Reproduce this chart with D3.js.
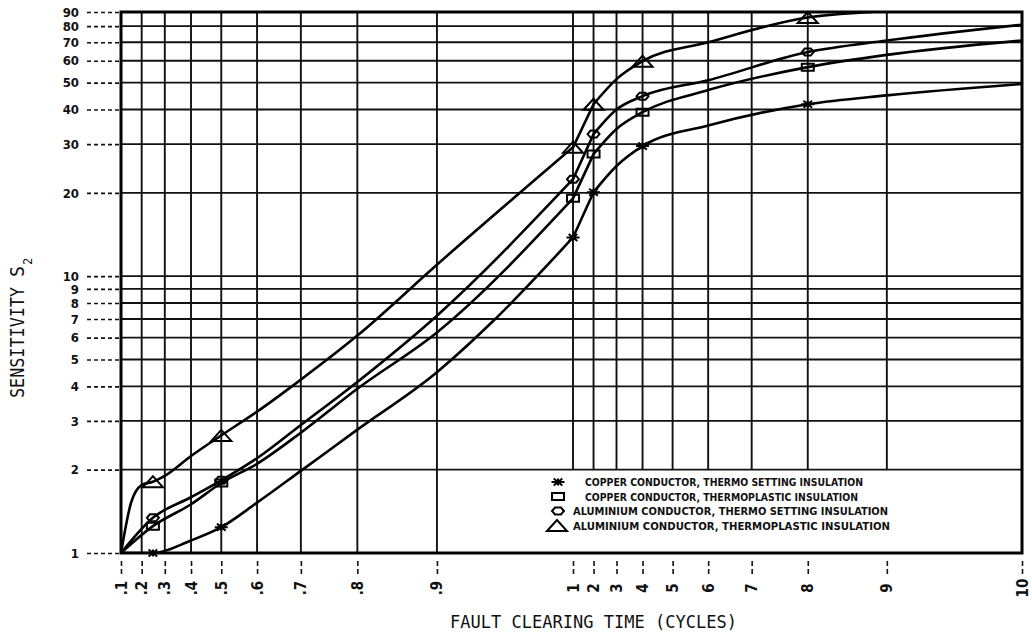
<!DOCTYPE html>
<html>
<head>
<meta charset="utf-8">
<script src="https://cdn.jsdelivr.net/npm/d3@7/dist/d3.min.js"></script>
<style>
  body { margin: 0; background: #fff; }
  svg { display: block; background: #fff; }
  .grid line { stroke: #111; stroke-width: 1.9; }
  .frame { fill: none; stroke: #000; stroke-width: 3; }
  .axis .domain { display: none; }
  .axis line { stroke: #111; stroke-width: 1.6; }
  .axis text { font-family: "DejaVu Sans Condensed", "Liberation Sans Narrow", "DejaVu Sans", sans-serif; font-stretch: condensed; font-weight: bold; fill: #111; }
  .y.axis text { font-size: 13px; }
  .x.axis text { font-size: 15px; }
  .curve { fill: none; stroke: #000; stroke-width: 2.6; stroke-linecap: round; stroke-linejoin: round; }
  .mark { fill: none; stroke: #000; stroke-width: 2; }
  .title { font-family: "DejaVu Sans Mono", "Liberation Mono", monospace; fill: #111; }
  .legend text { font-family: "DejaVu Sans Condensed", "DejaVu Sans", sans-serif; font-stretch: condensed; font-weight: bold; font-size: 11px; fill: #111; }
</style>
</head>
<body>
<svg id="chart" width="1032" height="634"></svg>
<script>
// 軸の目盛り
var xTicks = [0.1, 0.2, 0.3, 0.4, 0.5, 0.6, 0.7, 0.8, 0.9, 1, 2, 3, 4, 5, 6, 7, 8, 9, 10];
var xTickLabels = [".1", ".2", ".3", ".4", ".5", ".6", ".7", ".8", ".9", "1", "2", "3", "4", "5", "6", "7", "8", "9", "10"];
var yTicks = [1, 2, 3, 4, 5, 6, 7, 8, 9, 10, 20, 30, 40, 50, 60, 70, 80, 90];

// マーカーを打つクリアリング時間
var markerX = [0.25, 0.5, 1, 2, 4, 8];
// 曲線が折れる点
var breakX = [1, 2];

// [fault clearing time, sensitivity S2] 図から読み取り
var cuThermoSet = [[0.1, 1], [0.25, 1], [0.4, 1.11], [0.5, 1.24], [0.6, 1.52], [0.7, 1.98], [0.8, 2.79], [0.9, 4.5], [0.95, 6.9],
    [1, 13.8], [2, 20.1], [3, 25], [4, 29.5], [6, 35], [8, 41.8], [9, 45], [10, 49.5]];
var cuThermoPlastic = [[0.1, 1], [0.25, 1.25], [0.4, 1.5], [0.5, 1.79], [0.6, 2.1], [0.7, 2.72], [0.8, 3.92], [0.9, 6.26],
    [1, 19.1], [2, 27.6], [3, 34], [4, 39.1], [6, 47], [8, 56.9], [9, 63], [10, 71]];
var alThermoSet = [[0.1, 1], [0.25, 1.34], [0.4, 1.59], [0.5, 1.83], [0.6, 2.2], [0.7, 2.9], [0.8, 4.15], [0.9, 7.2],
    [1, 22.4], [2, 32.6], [3, 40], [4, 44.7], [6, 51], [8, 64.5], [9, 71], [10, 81]];
var alThermoPlastic = [[0.1, 1], [0.15, 1.52], [0.2, 1.76], [0.25, 1.81], [0.3, 1.9], [0.4, 2.24], [0.5, 2.66], [0.6, 3.24], [0.7, 4.23],
    [0.8, 6.1], [0.9, 11], [1, 29.2], [2, 41.8], [3, 51.5], [4, 59.8], [6, 70], [8, 86], [8.85, 90]];

var legendLabels = ["COPPER CONDUCTOR, THERMO SETTING INSULATION",
    "COPPER CONDUCTOR, THERMOPLASTIC INSULATION",
    "ALUMINIUM CONDUCTOR, THERMO SETTING INSULATION",
    "ALUMINIUM CONDUCTOR, THERMOPLASTIC INSULATION"];
var legendSymbols = ["star", "square", "diamond", "triangle"];
var seriesList = [cuThermoSet, cuThermoPlastic, alThermoSet, alThermoPlastic];

// レイアウト
var xL = 121, xM = 573, xR = 1022, yTop = 12, yBot = 553;
var legendTextX = [585, 585, 573, 573], legendTextW = [278, 273, 315, 317];

var svg = d3.select("#chart");

// y: log, x: 反転した対数目盛りを2デケード分つなげたもの
var y = d3.scaleLog().domain([1, 90]).range([yBot, yTop]);
var rev = d3.scaleLog().domain([10, 1]).range([0, 1]);
function xPos(v) {
    return v <= 1 ? xL + (xM - xL) * rev(11 - 10 * v) : xM + (xR - xM) * rev(11 - v);
}
var x = d3.scaleLinear().domain(xTicks).range(xTicks.map(xPos));

// grid
var grid = svg.append("g").attr("class", "grid");
grid.selectAll(".v").data(xTicks).join("line").attr("class", "v")
    .attr("x1", x).attr("x2", x).attr("y1", yTop)
    .attr("y2", function (d) { return (d > 0.9 && d < 10) ? y(2) : yBot; });
grid.selectAll(".h").data(yTicks).join("line").attr("class", "h")
    .attr("x1", xL).attr("x2", xR).attr("y1", y).attr("y2", y);

svg.append("rect").attr("class", "frame")
    .attr("x", xL).attr("y", yTop).attr("width", xR - xL).attr("height", yBot - yTop);

// axes
var yAxis = d3.axisLeft(y).tickValues(yTicks).tickFormat(d3.format("d")).tickSize(34).tickPadding(6);
svg.append("g").attr("class", "y axis").attr("transform", "translate(" + (xL - 2) + ",0)").call(yAxis)
    .selectAll("line").attr("stroke-dasharray", "4,3");

var xAxis = d3.axisBottom(x).tickValues(xTicks).tickFormat(function (d, i) { return xTickLabels[i]; }).tickSize(24);
var xg = svg.append("g").attr("class", "x axis").attr("transform", "translate(0," + yBot + ")").call(xAxis);
xg.selectAll("line").attr("stroke-dasharray", "0,8,5,3,5,10");
xg.selectAll("text").attr("y", 0).attr("dy", null)
    .attr("transform", "translate(0,35) rotate(-90)")
    .attr("text-anchor", "middle").attr("dominant-baseline", "central");

// curves
svg.append("clipPath").attr("id", "plot").append("rect")
    .attr("x", xL).attr("y", yTop).attr("width", xR - xL).attr("height", yBot - yTop);

var line = d3.line()
    .x(function (d) { return xPos(d[0]); })
    .y(function (d) { return y(d[1]); })
    .curve(d3.curveMonotoneX);

// breakXで区切って滑らかにつなぐ
function segPath(s) {
    var parts = [], cur = [];
    s.forEach(function (d) {
        cur.push(d);
        if (breakX.indexOf(d[0]) >= 0) { parts.push(cur); cur = [d]; }
    });
    if (cur.length > 1) parts.push(cur);
    return parts.map(function (p) { return line(p); }).join("");
}

svg.append("g").attr("clip-path", "url(#plot)").selectAll("path").data(seriesList).join("path")
    .attr("class", "curve").attr("d", segPath);

// シンボル描画
function symbolPath(type, cx, cy, w, h) {
    var p = d3.path();
    if (type == "triangle") {
        p.moveTo(cx - w / 2, cy + h / 2); p.lineTo(cx, cy - h / 2); p.lineTo(cx + w / 2, cy + h / 2); p.closePath();
    } else if (type == "square") {
        p.rect(cx - w / 2, cy - h / 2, w, h);
    } else if (type == "diamond") {
        p.moveTo(cx - w / 2, cy); p.lineTo(cx - w / 4, cy - h / 2); p.lineTo(cx + w / 4, cy - h / 2);
        p.lineTo(cx + w / 2, cy); p.lineTo(cx + w / 4, cy + h / 2); p.lineTo(cx - w / 4, cy + h / 2); p.closePath();
    } else {
        p.moveTo(cx - w / 2, cy); p.lineTo(cx + w / 2, cy);
        p.moveTo(cx, cy - h / 2); p.lineTo(cx, cy + h / 2);
        p.moveTo(cx - w / 3, cy - h / 2); p.lineTo(cx + w / 3, cy + h / 2);
        p.moveTo(cx - w / 3, cy + h / 2); p.lineTo(cx + w / 3, cy - h / 2);
    }
    return p.toString();
}
var symSize = {triangle: [20, 11], square: [12, 7], diamond: [12, 7], star: [13, 7]};

function valueAt(s, t) {
    return s.filter(function (d) { return d[0] == t; })[0][1];
}

var marks = svg.append("g");
seriesList.forEach(function (s, i) {
    var type = legendSymbols[i], sz = symSize[type];
    marks.append("g").selectAll("path").data(markerX).join("path")
        .attr("class", "mark")
        .attr("stroke-width", type == "star" ? 2.8 : 2)
        .attr("d", function (t) { return symbolPath(type, xPos(t), y(valueAt(s, t)), sz[0], sz[1]); });
});

// legend
var legend = svg.append("g").attr("class", "legend");
legendLabels.forEach(function (lab, i) {
    var cy = 482 + i * 14.5, type = legendSymbols[i], sz = symSize[type];
    legend.append("path").attr("class", "mark")
        .attr("stroke-width", type == "star" ? 2.8 : 2)
        .attr("d", symbolPath(type, type == "triangle" ? 557 : 558, cy, sz[0], sz[1]));
    legend.append("text").attr("x", legendTextX[i]).attr("y", cy + 4)
        .attr("textLength", legendTextW[i]).attr("lengthAdjust", "spacingAndGlyphs")
        .text(lab);
});

// titles
svg.append("text").attr("class", "title").attr("x", 450).attr("y", 628)
    .attr("font-size", 18).attr("textLength", 287).attr("lengthAdjust", "spacingAndGlyphs")
    .text("FAULT CLEARING TIME (CYCLES)");

var yt = svg.append("g").attr("class", "title").attr("transform", "translate(24,398) rotate(-90)");
yt.append("text").attr("x", 0).attr("y", 0).attr("font-size", 20)
    .attr("textLength", 111).attr("lengthAdjust", "spacingAndGlyphs").text("SENSITIVITY");
yt.append("text").attr("x", 121).attr("y", 0).attr("font-size", 20)
    .attr("textLength", 11).attr("lengthAdjust", "spacingAndGlyphs").text("S");
yt.append("text").attr("x", 133).attr("y", 8).attr("font-size", 12).text("2");
</script>
</body>
</html>
